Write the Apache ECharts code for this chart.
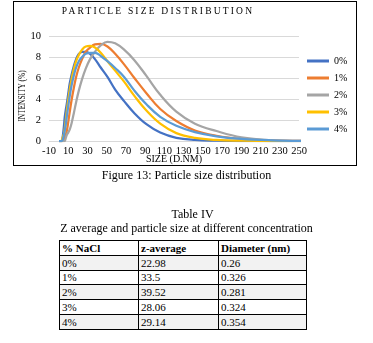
<!DOCTYPE html>
<html>
<head>
<meta charset="utf-8">
<script src="https://cdn.jsdelivr.net/npm/echarts@6/dist/echarts.min.js"></script>
<style>
  html, body { margin: 0; padding: 0; background: #fff; }
  body { width: 373px; height: 343px; position: relative; overflow: hidden;
         font-family: "Liberation Serif", "Times New Roman", serif; color: #000; }
  #frame { position: absolute; left: 13px; top: 1px; width: 342px; height: 163px;
           border: 1px solid #000; }
  #chart { position: absolute; left: 0; top: 0; width: 373px; height: 170px; }
  #title { position: absolute; left: 13px; width: 290px; top: 5px; text-align: center;
           font-size: 9.5px; letter-spacing: 2.2px; line-height: 12px; }
  .cap { position: absolute; left: 0; width: 373px; text-align: center; font-size: 12px; line-height: 14px; }
  table { position: absolute; left: 59px; top: 240px; border-collapse: collapse;
          font-size: 11px; }
  td, th { border: 1px solid #000; height: 13.8px; padding: 0 0 0 2px; text-align: left;
           line-height: 12px; }
  th { font-weight: bold; }
  tr.shade td { background: #f2f2f2; }
</style>
</head>
<body>
<div id="chart"></div>
<div id="frame"></div>
<div id="title">PARTICLE SIZE DISTRIBUTION</div>
<div class="cap" style="top:168px;">Figure 13: Particle size distribution</div>
<div class="cap" style="top:207px; left:6px;">Table IV</div>
<div class="cap" style="top:221px;">Z average and particle size at different concentration</div>
<table id="tbl"></table>
<script>
// Size bins (d.nm) and intensity (%) for each NaCl concentration
const sizes = [0.4, 1.1, 2.0, 2.7, 3.1, 3.6, 4.1, 4.8, 5.6, 6.4, 7.5, 8.6, 10.0, 11.6, 13.5, 15.7, 18.2, 21.0, 24.4, 28.2, 32.7, 37.8, 43.8, 50.8, 58.8, 68.1, 78.8, 91.3, 105.7, 122.4, 141.8, 164.2, 190.1, 220.2, 255.0];
const nacl0 = [0, 0, 0, 0, 0, 0.1, 0.3, 0.8, 1.5, 2.3, 3.0, 3.6, 4.5, 5.5, 6.3, 7.1, 7.8, 8.3, 8.5, 8.5, 8.3, 7.8, 7.0, 6.1, 4.9, 3.8, 2.65, 1.6, 0.8, 0.3, 0.1, 0.03, 0, 0, 0];
const nacl1 = [0, 0, 0, 0, 0, 0, 0, 0, 0.2, 0.4, 0.6, 1.0, 1.8, 2.8, 3.9, 5.0, 6.1, 7.0, 7.8, 8.5, 8.9, 9.2, 9.25, 9.0, 8.3, 7.3, 6.0, 4.55, 3.05, 1.9, 1.0, 0.5, 0.2, 0.06, 0.01];
const nacl2 = [0, 0, 0, 0, 0, 0, 0, 0, 0, 0, 0.3, 0.6, 0.8, 1.1, 1.7, 2.6, 3.7, 4.8, 5.9, 6.9, 7.8, 8.5, 9.1, 9.45, 9.3, 8.7, 7.7, 6.2, 4.4, 2.8, 1.65, 0.95, 0.35, 0.08, 0.01];
const nacl3 = [0, 0, 0, 0, 0, 0, 0.3, 0.5, 0.7, 1.2, 2.0, 2.9, 3.9, 4.9, 5.9, 6.8, 7.6, 8.2, 8.7, 9.0, 9.05, 8.9, 8.4, 7.6, 6.7, 5.65, 4.3, 2.9, 1.65, 0.75, 0.3, 0.1, 0.03, 0, 0];
const nacl4 = [0, 0, 0, 0, 0, 0, 0.1, 0.3, 0.6, 1.0, 1.6, 2.4, 3.3, 4.3, 5.3, 6.2, 7.0, 7.6, 8.0, 8.3, 8.4, 8.4, 8.1, 7.6, 6.95, 6.1, 4.8, 3.5, 2.3, 1.45, 0.85, 0.45, 0.2, 0.07, 0.02];

const seriesNames = ['0%', '1%', '2%', '3%', '4%'];
const seriesColors = ['#4472C4', '#ED7D31', '#A5A5A5', '#FFC000', '#5B9BD5'];
const seriesValues = [nacl0, nacl1, nacl2, nacl3, nacl4];

// Table IV values
const tableHeader = ['% NaCl', 'z-average', 'Diameter (nm)'];
const tableConc = ['0%', '1%', '2%', '3%', '4%'];
const tableZavg = ['22.98', '33.5', '39.52', '28.06', '29.14'];
const tableDiam = ['0.26', '0.326', '0.281', '0.324', '0.354'];

const serif = 'Liberation Serif';

const chart = echarts.init(document.getElementById('chart'), null, { renderer: 'canvas' });
chart.setOption({
  animation: false,
  backgroundColor: 'transparent',
  grid: { left: 49, right: 74, top: 36, bottom: 29, containLabel: false, outerBoundsMode: 'none' },
  legend: {
    orient: 'vertical',
    left: 302,
    top: 50,
    icon: 'rect',
    itemWidth: 22,
    itemHeight: 3,
    itemGap: 5,
    textStyle: { fontFamily: serif, fontSize: 10, color: '#000', lineHeight: 12 },
    data: seriesNames
  },
  xAxis: {
    type: 'value',
    min: -10,
    max: 250,
    interval: 20,
    name: 'SIZE (D.NM)',
    nameLocation: 'middle',
    nameGap: 13,
    nameMoveOverlap: false,
    nameTextStyle: { fontFamily: serif, fontSize: 10, color: '#000' },
    axisLine: { show: true, lineStyle: { color: '#d9d9d9' } },
    axisTick: { show: false },
    splitLine: { show: false },
    axisLabel: { fontFamily: serif, fontSize: 10.5, color: '#000', margin: 5 }
  },
  yAxis: {
    type: 'value',
    min: 0,
    max: 10,
    interval: 2,
    axisLine: { show: false },
    axisTick: { show: false },
    splitLine: { lineStyle: { color: '#d9d9d9', width: 1 } },
    axisLabel: { fontFamily: serif, fontSize: 10.5, color: '#000', margin: 8 }
  },
  graphic: [{
    type: 'text',
    x: 22,
    y: 96,
    rotation: Math.PI / 2,
    scaleX: 0.7,
    style: {
      text: 'INTENSITY (%)',
      fontFamily: serif,
      fontSize: 10.5,
      fill: '#000',
      align: 'center',
      verticalAlign: 'middle'
    }
  }],
  series: seriesNames.map((name, k) => ({
    name: name,
    type: 'line',
    smooth: 0.4,
    showSymbol: false,
    clip: true,
    color: seriesColors[k],
    lineStyle: { width: 2.25, color: seriesColors[k] },
    data: sizes.map((s, i) => [s, seriesValues[k][i]])
  }))
});

// Build the concentration table
const tbl = document.getElementById('tbl');
const widths = [79, 80, 88];
let html = '<tr>' + tableHeader.map((h, j) => `<th style="width:${widths[j] - 3}px">${h}</th>`).join('') + '</tr>';
tableConc.forEach((c, i) => {
  html += `<tr class="${i % 2 === 0 ? 'shade' : ''}"><td>${c}</td><td>${tableZavg[i]}</td><td>${tableDiam[i]}</td></tr>`;
});
tbl.innerHTML = html;
</script>
</body>
</html>
